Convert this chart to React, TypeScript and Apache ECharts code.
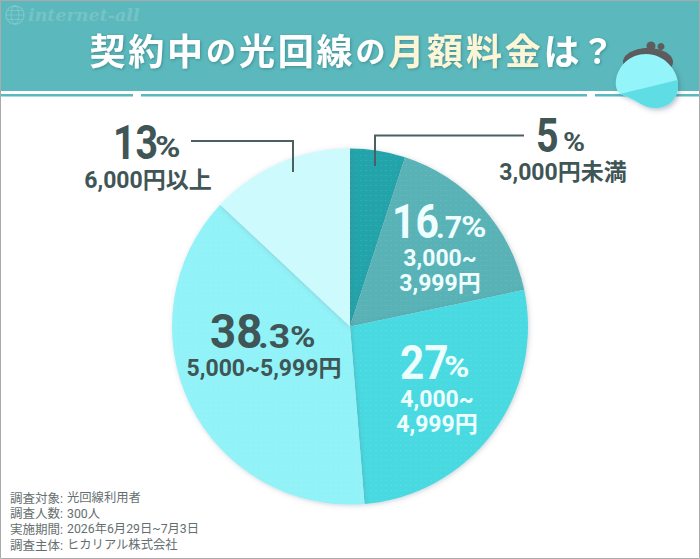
import React, { useEffect, useRef } from "react";
import * as echarts from "echarts";

const categories = ["3,000円未満", "3,000~3,999円", "4,000~4,999円", "5,000~5,999円", "6,000円以上"];
const shares = [5, 16.7, 27, 38.3, 13];
const sliceColors = ["#21a5ab", "#58b3b7", "#4adbe2", "#92f3f8", "#cdfbfe"];
const footnotes = [
  ["調査対象", "光回線利用者"],
  ["調査人数", "300人"],
  ["実施期間", "2026年6月29日~7月3日"],
  ["調査主体", "ヒカリアル株式会社"],
];

const CJK = '"Noto Sans CJK JP", sans-serif';
const LATIN_CJK = 'Roboto, "Noto Sans CJK JP", sans-serif';
const NUM = 'Roboto, sans-serif';
const DARK = "#3f5556";
const LIGHT = "#eefeff";

echarts.graphic.registerShape(
  "purseBody",
  echarts.graphic.extendPath("M646 54C664 54 678 70 678 85C678 100 668 108 655 108C643 108 637 100 625 96C617 93 615 88 616 80C618 66 630 54 646 54Z", {}) as any,
);
echarts.graphic.registerShape(
  "purseLower",
  echarts.graphic.extendPath("M620 94L677.5 80C678 82 678 84 678 85C678 100 668 108 655 108C643 108 637 100 625 96Z", {}) as any,
);

// number drawn narrower than the font, as in the original artwork
const bigNum = (text: string, x: number, y: number, size: number, fill: string, sx = 0.88) => ({
  type: "text",
  x,
  y,
  scaleX: sx,
  z: 20,
  style: { text, font: `700 ${size}px ${NUM}`, fill, align: "left", verticalAlign: "middle" },
});
const label = (text: string, x: number, y: number, size: number, fill: string, align = "center", weight = 700, lineHeight = 25) => ({
  type: "text",
  x,
  y,
  z: 20,
  style: { text, font: `${weight} ${size}px ${LATIN_CJK}`, fill, align, verticalAlign: "middle", lineHeight },
});

const titleRuns: [string, string][] = [
  ["契約中", "w"],
  ["の", "s"],
  ["光回線", "w"],
  ["の", "s"],
  ["月額料金", "c"],
  ["は", "w"],
  ["？", "q"],
];
const titleText = titleRuns
  .map(([t, k]) => Array.from(t).map((c) => `{${k}|${c}}`).join(""))
  .join("");
const titleToken = (size: number, fill: string, width: number) => ({
  fontFamily: CJK,
  fontWeight: 700,
  fontSize: size,
  width,
  align: "center",
  fill,
  textShadowColor: "rgba(40,90,95,0.45)",
  textShadowBlur: 3,
  textShadowOffsetX: 1,
  textShadowOffsetY: 1,
});

const App: React.FC = () => {
  const chartRef = useRef<HTMLDivElement>(null);

  useEffect(() => {
    document.body.style.margin = "0";
    if (!chartRef.current) return;
    const chart = echarts.init(chartRef.current, undefined, { renderer: "svg" });
    const option = {
      animation: false,
      backgroundColor: "#ffffff",
      series: [
        {
          type: "pie",
          center: [350, 326.5],
          radius: [0, 178],
          startAngle: 90,
          clockwise: true,
          label: { show: false },
          labelLine: { show: false },
          silent: true,
          itemStyle: {
            shadowColor: "rgba(90,110,130,0.3)",
            shadowBlur: 5,
            shadowOffsetX: 1,
            shadowOffsetY: 1,
            // faint woven texture of the artwork
            decal: {
              symbol: "rect",
              symbolSize: 1,
              dashArrayX: [2, 3],
              dashArrayY: [1, 4],
              rotation: 0,
              color: "rgba(255,255,255,0.07)",
            },
          },
          data: categories.map((name, i) => ({
            name,
            value: shares[i],
            itemStyle: { color: sliceColors[i] },
          })),
        },
      ],
      graphic: [
        // header band
        { type: "rect", z: 1, shape: { x: 0, y: 0, width: 700, height: 91 }, style: { fill: "#5bb8bc" } },
        { type: "rect", z: 1, shape: { x: 0, y: 94, width: 133, height: 2.5 }, style: { fill: "#5bb8bc" } },
        { type: "rect", z: 1, shape: { x: 141, y: 94, width: 446, height: 2.5 }, style: { fill: "#5bb8bc" } },
        { type: "rect", z: 1, shape: { x: 595, y: 94, width: 105, height: 2.5 }, style: { fill: "#5bb8bc" } },
        // watermark
        { type: "circle", z: 2, shape: { cx: 15, cy: 15, r: 9 }, style: { fill: "none", stroke: "rgba(255,255,255,0.18)", lineWidth: 1.5 } },
        { type: "ellipse", z: 2, shape: { cx: 15, cy: 15, rx: 3.8, ry: 9 }, style: { fill: "none", stroke: "rgba(255,255,255,0.18)", lineWidth: 1 } },
        { type: "line", z: 2, shape: { x1: 6, y1: 15, x2: 24, y2: 15 }, style: { stroke: "rgba(255,255,255,0.18)", lineWidth: 1 } },
        { type: "line", z: 2, shape: { x1: 8, y1: 10.5, x2: 22, y2: 10.5 }, style: { stroke: "rgba(255,255,255,0.18)", lineWidth: 1 } },
        { type: "line", z: 2, shape: { x1: 8, y1: 19.5, x2: 22, y2: 19.5 }, style: { stroke: "rgba(255,255,255,0.18)", lineWidth: 1 } },
        {
          type: "text",
          x: 28,
          y: 15,
          z: 2,
          style: { text: "internet-all", font: 'italic 700 17.5px "DejaVu Serif", serif', fill: "rgba(255,255,255,0.18)", verticalAlign: "middle" },
        },
        // title
        {
          type: "text",
          x: 351,
          y: 49,
          z: 5,
          style: {
            text: titleText,
            align: "center",
            verticalAlign: "middle",
            rich: {
              w: titleToken(36, "#ffffff", 38.8),
              s: titleToken(30, "#ffffff", 33),
              c: titleToken(36, "#fdf6d6", 38.8),
              q: titleToken(33, "#ffffff", 33),
            },
          },
        },
        // purse
        { type: "circle", z: 6, shape: { cx: 651, cy: 46, r: 4.5 }, style: { fill: "#5d5d5d" } },
        { type: "circle", z: 6, shape: { cx: 661, cy: 46.5, r: 3.5 }, style: { fill: "#5d5d5d" } },
        { type: "ellipse", z: 6, shape: { cx: 648, cy: 62, rx: 25, ry: 14 }, style: { fill: "#5d5d5d" } },
        {
          type: "purseBody",
          z: 7,
          style: { fill: "#93f4f9", shadowColor: "rgba(60,80,110,0.35)", shadowBlur: 5, shadowOffsetX: 2, shadowOffsetY: 2 },
        },
        { type: "purseLower", z: 8, style: { fill: "#5fdde4" } },
        // leader lines
        {
          type: "polyline",
          z: 15,
          shape: { points: [[375, 166], [375, 135.5], [524, 135.5]] },
          style: { fill: "none", stroke: "#4a6061", lineWidth: 2 },
        },
        {
          type: "polyline",
          z: 15,
          shape: { points: [[191, 141], [293, 141], [293, 172]] },
          style: { fill: "none", stroke: "#4a6061", lineWidth: 2 },
        },
        // 5%
        bigNum(String(shares[0]), 536, 136, 48, DARK, 0.82),
        bigNum("%", 563, 142, 26, DARK, 1.15),
        label(categories[0], 563, 172, 23, DARK),
        // 16.7%
        bigNum("16", 392, 222, 48, LIGHT, 0.85),
        bigNum(".7", 436, 227, 32, LIGHT, 0.95),
        bigNum("%", 461, 227, 30, LIGHT, 1.15),
        label("3,000~\n3,999円", 440, 270.5, 23, LIGHT),
        // 27%
        bigNum(String(shares[2]), 400, 363, 48, LIGHT),
        bigNum("%", 444, 367, 30, LIGHT, 1.15),
        label("4,000~\n4,999円", 437, 412, 23, LIGHT),
        // 38.3%
        bigNum("38", 210, 332, 48, DARK, 0.95),
        bigNum(".3", 258, 337, 34, DARK, 1.1),
        bigNum("%", 290, 337, 30, DARK, 1.15),
        label(categories[3], 264, 368, 23, DARK),
        // 13%
        bigNum(String(shares[4]), 113, 143, 48, DARK, 0.82),
        bigNum("%", 155, 147, 30, DARK, 1.15),
        label(categories[4], 148, 180, 23, DARK),
        // survey notes
        ...footnotes.flatMap(([k, v], i) => [
          label(`${k}:`, 10, 498 + i * 15.7, 12.5, "#666f70", "left", 400, 14),
          label(v, 67, 498 + i * 15.7, 12.3, "#666f70", "left", 400, 14),
        ]),
        // outer frame
        { type: "rect", z: 30, shape: { x: 0.5, y: 0.5, width: 699, height: 558 }, style: { fill: "none", stroke: "#aaaaaa", lineWidth: 1 } },
      ],
    };
    chart.setOption(option as any);
    return () => chart.dispose();
  }, []);

  return <div ref={chartRef} style={{ width: 700, height: 559 }}></div>;
};

export default App;
